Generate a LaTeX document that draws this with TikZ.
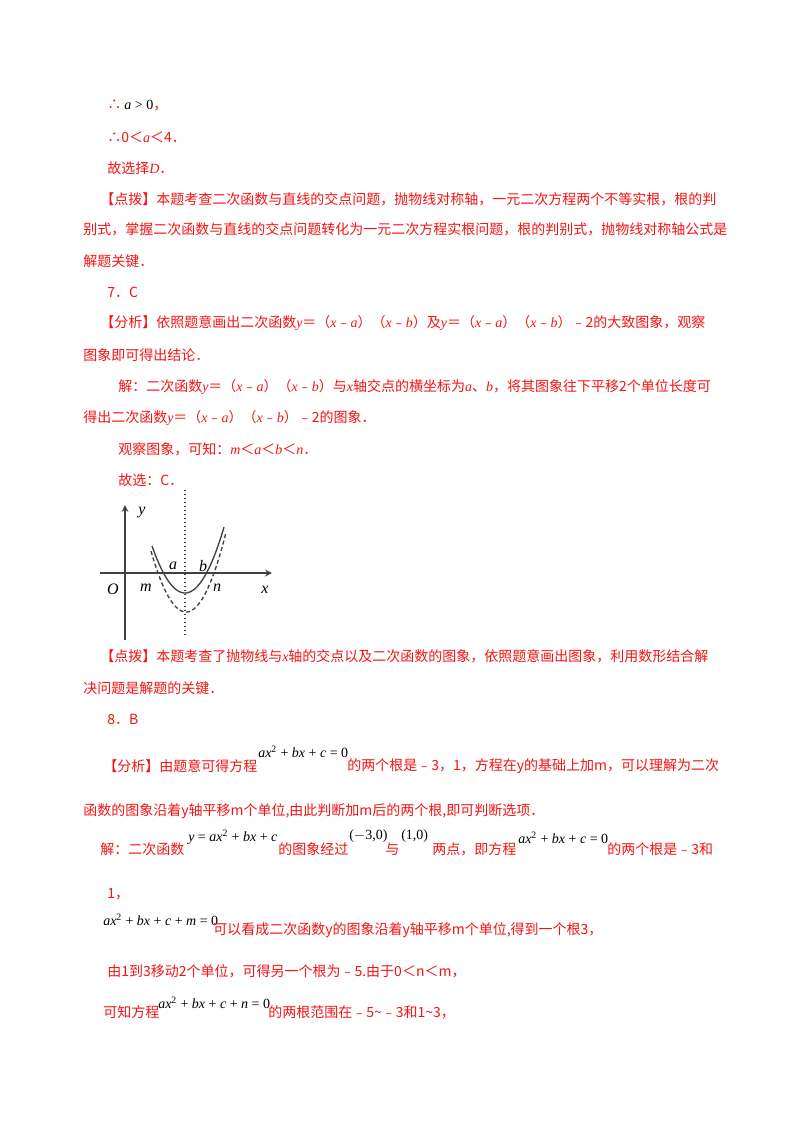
\documentclass[tikz,border=0pt]{standalone}
\usepackage{fontspec}
\setmainfont{Noto Sans CJK SC}
\newfontfamily\serifm{Liberation Serif}
\definecolor{tred}{RGB}{245,20,20}
\newcommand{\vi}[1]{{\itshape #1}}
\newcommand{\sq}{\textsuperscript{2}}
\begin{document}
\begin{tikzpicture}[x=0.75pt,y=-0.75pt,
  t/.style={anchor=west,inner sep=0pt,text=tred,font=\fontsize{10.5}{12}\selectfont},
  f/.style={anchor=west,inner sep=0pt,text=black,font=\serifm\fontsize{10.5}{12}\selectfont},
  lb/.style={inner sep=0pt,font=\serifm\itshape\fontsize{12}{12}\selectfont}]
\useasboundingbox[fill=white] (0,0) rectangle (800,1132);
\node[t] (l1) at (107,105) {∴ {\color{black}\serifm{\itshape a} > 0}，};
\node[t] (l2) at (107,137) {∴0＜{\serifm\itshape a}＜4．};
\node[t] (l3) at (107,168) {故选择{\serifm\itshape D}．};
\node[t] (l4) at (100,199) {【点拨】本题考查二次函数与直线的交点问题，抛物线对称轴，一元二次方程两个不等实根，根的判};
\node[t] (l5) at (83,229) {别式，掌握二次函数与直线的交点问题转化为一元二次方程实根问题，根的判别式，抛物线对称轴公式是};
\node[t] (l6) at (83,261) {解题关键．};
\node[t] (l7) at (107,292) {7．C};
\node[t] (l8) at (100,323) {【分析】依照题意画出二次函数{\serifm\itshape y}＝（{\serifm\itshape x}﹣{\serifm\itshape a}）（{\serifm\itshape x}﹣{\serifm\itshape b}）及{\serifm\itshape y}＝（{\serifm\itshape x}﹣{\serifm\itshape a}）（{\serifm\itshape x}﹣{\serifm\itshape b}）﹣2的大致图象，观察};
\node[t] (l9) at (83,355) {图象即可得出结论．};
\node[t] (l10) at (118,387) {解：二次函数{\serifm\itshape y}＝（{\serifm\itshape x}﹣{\serifm\itshape a}）（{\serifm\itshape x}﹣{\serifm\itshape b}）与{\serifm\itshape x}轴交点的横坐标为{\serifm\itshape a}、{\serifm\itshape b}，将其图象往下平移2个单位长度可};
\node[t] (l11) at (83,418) {得出二次函数{\serifm\itshape y}＝（{\serifm\itshape x}﹣{\serifm\itshape a}）（{\serifm\itshape x}﹣{\serifm\itshape b}）﹣2的图象．};
\node[t] (l12) at (118,449) {观察图象，可知：{\serifm\itshape m}＜{\serifm\itshape a}＜{\serifm\itshape b}＜{\serifm\itshape n}．};
\node[t] (l13) at (118,480) {故选：C．};
% graph
\begin{scope}[line width=1.3pt,draw=black!75]
\draw[->,>=stealth] (100,573) -- (272,573);
\draw[->,>=stealth] (125,640) -- (125,505);
\draw[dotted,line width=1pt] (185,490) -- (185,637);
\draw[line width=1pt] plot[domain=152:224,samples=40,smooth] (\x,{593-20*((\x-185)/21.5)^2});
\draw[line width=1pt,dash pattern=on 3pt off 2pt] plot[domain=151:226,samples=40,smooth] (\x,{612-39*((\x-186)/28)^2});
\end{scope}
\node[lb] (ly) at (142,513) {y};
\node[lb] (lo) at (113,589) {O};
\node[lb] (lm) at (146,588) {m};
\node[lb] (la) at (173,566) {a};
\node[lb] (lbb) at (203,566) {b};
\node[lb] (ln) at (217,588) {n};
\node[lb] (lx) at (265,590) {x};
\node[t] (l14) at (100,656) {【点拨】本题考查了抛物线与{\serifm\itshape x}轴的交点以及二次函数的图象，依照题意画出图象，利用数形结合解};
\node[t] (l15) at (83,688) {决问题是解题的关键．};
\node[t] (l16) at (107,719) {8．B};
\node[t] (l17) at (103,766) {【分析】由题意可得方程};
\node[f] (f1) at (258,752) {\vi{ax}\sq\ + \vi{bx} + \vi{c} = 0};
\node[t] (l17b) at (347,766) {的两个根是﹣3，1，方程在y的基础上加m，可以理解为二次};
\node[t] (l18) at (83,811) {函数的图象沿着y轴平移m个单位,由此判断加m后的两个根,即可判断选项．};
\node[t] (l19) at (100,849) {解：二次函数};
\node[f] (f2) at (188,837) {\vi{y} = \vi{ax}\sq\ + \vi{bx} + \vi{c}};
\node[t] (l19b) at (278,849) {的图象经过};
\node[f] (f3) at (349,836) {($-$3,0)};
\node[t] (l19c) at (385,849) {与};
\node[f] (f4) at (401,836) {(1,0)};
\node[t] (l19d) at (432,849) {两点，即方程};
\node[f] (f5) at (518,838) {\vi{ax}\sq\ + \vi{bx} + \vi{c} = 0};
\node[t] (l19e) at (607,849) {的两个根是﹣3和};
\node[t] (l20) at (107,894) {1，};
\node[f] (f6) at (103,920) {\vi{ax}\sq\ + \vi{bx} + \vi{c} + \vi{m} = 0};
\node[t] (l21) at (213,930) {可以看成二次函数y的图象沿着y轴平移m个单位,得到一个根3，};
\node[t] (l22) at (107,971) {由1到3移动2个单位，可得另一个根为﹣5.由于0＜n＜m，};
\node[t] (l23) at (103,1012) {可知方程};
\node[f] (f7) at (158,1003) {\vi{ax}\sq\ + \vi{bx} + \vi{c} + \vi{n} = 0};
\node[t] (l23b) at (268,1012) {的两根范围在﹣5\textasciitilde﹣3和1\textasciitilde3，};
\end{tikzpicture}
\end{document}
